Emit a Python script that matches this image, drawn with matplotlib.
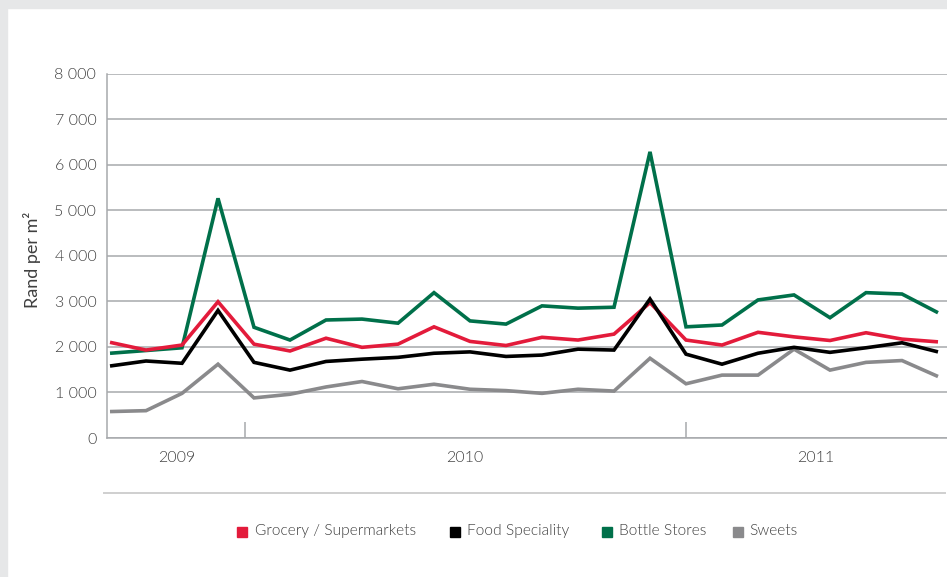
import numpy as np
import matplotlib.pyplot as plt
from matplotlib.patches import Rectangle
from matplotlib.lines import Line2D

plt.rcParams['font.family'] = ['Lato', 'DejaVu Sans']
plt.rcParams['font.weight'] = 300

# monthly rand per m2, two years of readings
grocery = [2100, 1930, 2040, 2990, 2060, 1910, 2190, 1990, 2060, 2440, 2120, 2030,
           2210, 2150, 2280, 2970, 2150, 2040, 2320, 2220, 2140, 2310, 2170, 2110]
food_speciality = [1580, 1690, 1640, 2800, 1660, 1490, 1680, 1730, 1770, 1860, 1890, 1790,
                   1820, 1950, 1930, 3050, 1840, 1620, 1860, 1990, 1880, 1980, 2090, 1890]
bottle_stores = [1860, 1920, 1980, 5260, 2430, 2150, 2590, 2610, 2520, 3190, 2570, 2500,
                 2900, 2850, 2870, 6280, 2440, 2480, 3030, 3140, 2640, 3190, 3160, 2750]
sweets = [580, 600, 980, 1620, 880, 960, 1120, 1240, 1080, 1180, 1070, 1040,
          980, 1070, 1030, 1750, 1190, 1380, 1380, 1950, 1490, 1660, 1700, 1350]

years = ['2009', '2010', '2011']
year_pos = [1.86, 9.86, 19.6]
year_breaks = [3.75, 16]

series = [
    ('Grocery / Supermarkets', grocery, '#e31b3b', 3),
    ('Food Speciality', food_speciality, '#000000', 4),
    ('Bottle Stores', bottle_stores, '#00704a', 2),
    ('Sweets', sweets, '#8a8a8c', 1),
]

txt = '#3f3f3f'
grid = '#a7a9ac'
W, H = 947, 577

fig = plt.figure(figsize=(W / 100, H / 100), dpi=100)
# light grey panel edge on top and left
fig.patches.append(Rectangle((0, 1 - 8 / H), 1, 8 / H, transform=fig.transFigure,
                             color='#e6e7e8', zorder=0))
fig.patches.append(Rectangle((0, 0), 7 / W, 1, transform=fig.transFigure,
                             color='#e6e7e8', zorder=0))

ax = fig.add_axes([106.7 / W, 1 - 438 / H, 1 - 106.7 / W, (438 - 73.5) / H])
x = np.arange(len(grocery))
for name, vals, col, z in series:
    ax.plot(x, vals, color=col, lw=2.6, zorder=z + 2, solid_joinstyle='miter',
            solid_capstyle='butt')

ax.set_xlim(-0.092, 23.25)
ax.set_ylim(0, 8000)
ax.set_yticks(range(0, 8001, 1000))
ax.set_yticklabels(['0'] + [f'{v // 1000} 000' for v in range(1000, 8001, 1000)])
ax.yaxis.grid(True, color=grid, lw=1.1)
ax.set_axisbelow(True)
ax.tick_params(axis='y', length=0, pad=7.5, labelsize=11.5, labelcolor=txt)

ax.set_xticks(year_breaks)
ax.set_xticklabels([])
ax.tick_params(axis='x', which='major', direction='in', length=11.5, width=1.1, color=grid)
ax.set_xticks(year_pos, minor=True)
ax.set_xticklabels(years, minor=True)
ax.tick_params(axis='x', which='minor', length=0, pad=9, labelsize=11.5, labelcolor=txt)

for s in ['top', 'right']:
    ax.spines[s].set_visible(False)
for s in ['left', 'bottom']:
    ax.spines[s].set_color(grid)
    ax.spines[s].set_linewidth(1.1)

ax.set_ylabel('Rand per m²', fontsize=13, color=txt)
ax.yaxis.set_label_coords(-(106.7 - 41) / (W - 106.7), 0.49)

# separator under the year labels
fig.add_artist(Line2D([104 / W, 945 / W], [1 - 492.7 / H] * 2,
                      transform=fig.transFigure, color='#cfcfcf', lw=1.4))

# legend row: square key then label
key_x = [237, 450, 602, 733]
text_gap = [18, 17, 17, 16]
for (name, _, col, _), kx, gap in zip(series, key_x, text_gap):
    fig.patches.append(Rectangle((kx / W, 1 - 536.7 / H), 10 / W, 10 / H,
                                 transform=fig.transFigure, color=col))
    fig.text((kx + gap) / W, 1 - 531 / H, name, fontsize=11.2, color=txt,
             ha='left', va='center')

fig.savefig('out.png', dpi=100)
